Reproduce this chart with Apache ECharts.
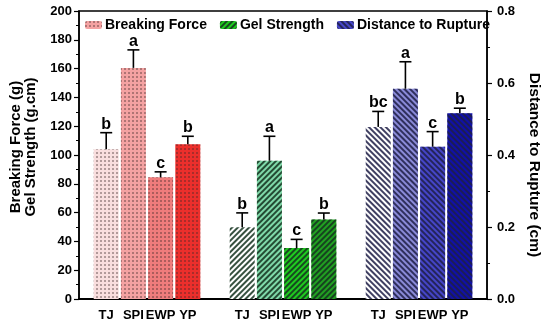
<!DOCTYPE html>
<html>
<head>
<meta charset="utf-8">
<script src="https://cdn.jsdelivr.net/npm/echarts@6/dist/echarts.min.js"></script>
<style>html,body{margin:0;padding:0;background:#fff}#c{width:550px;height:326px}</style>
</head>
<body>
<div id="c"></div>
<script>
// ---- data ----
var samples = ['TJ', 'SPI', 'EWP', 'YP'];
var breakingForce = [104, 160.5, 84.5, 107.5];
var breakingForceErr = [11.5, 12.5, 3.8, 5.5];
var breakingForceLetters = ['b', 'a', 'c', 'b'];
var gelStrength = [49.8, 96, 35.4, 55.2];
var gelStrengthErr = [10, 17, 6, 4.5];
var gelStrengthLetters = ['b', 'a', 'c', 'b'];
var distance = [0.478, 0.584, 0.423, 0.516];
var distanceErr = [0.043, 0.075, 0.042, 0.014];
var distanceLetters = ['bc', 'a', 'c', 'b'];
var leftTicks = [0, 200, 20];
var rightTicks = [0, 0.8, 0.2];

// ---- styles ----
var FONT = 'Liberation Sans, Arial, sans-serif';
var bfColors = ['#f9dede', '#f4a2a2', '#ef7c7c', '#ec2f2c'];
var gsColors = ['#ffffff', '#7fd9a9', '#1fcb1f', '#21a021'];
var dColors = ['#ffffff', '#8a8ad8', '#4545c8', '#1010a8'];
var dotDecal = {symbol: 'circle', symbolSize: 0.8, dashArrayX: [2, 2], dashArrayY: [2, 2], color: 'rgba(60,40,40,0.85)', rotation: 0};
var stripeG = {symbol: 'rect', symbolSize: 1, dashArrayX: [1, 0], dashArrayY: [1.4, 1.6], color: 'rgba(20,50,30,0.85)', rotation: -Math.PI / 4};
var stripeB = {symbol: 'rect', symbolSize: 1, dashArrayX: [1, 0], dashArrayY: [1.4, 1.6], color: 'rgba(30,30,70,0.85)', rotation: Math.PI / 4};

// categories: gap + 4 samples per group
var cats = [''];
[0, 1, 2].forEach(function () { cats = cats.concat(samples); cats.push(''); });
var starts = [1, 6, 11];

function buildBar(vals, colors, decal, g) {
  var d = cats.map(function () { return '-'; });
  vals.forEach(function (v, i) {
    d[starts[g] + i] = {value: v, itemStyle: {color: colors[i], decal: decal}};
  });
  return d;
}
function buildErr(vals, errs, g) {
  return vals.map(function (v, i) { return [starts[g] + i, v, errs[i]]; });
}
function errRender(letters) {
  return function (params, api) {
    var idx = api.value(0), v = api.value(1), e = api.value(2);
    var p0 = api.coord([idx, v]);
    var p1 = api.coord([idx, v + e]);
    var x = p0[0];
    return {
      type: 'group',
      children: [
        {type: 'line', shape: {x1: x, y1: p0[1], x2: x, y2: p1[1]}, style: {stroke: '#000', lineWidth: 1.6}},
        {type: 'line', shape: {x1: x - 6, y1: p1[1], x2: x + 6, y2: p1[1]}, style: {stroke: '#000', lineWidth: 1.6}},
        {type: 'text', x: x, y: p1[1] - 0.5, style: {text: letters[params.dataIndex], font: 'bold 16px ' + FONT, fill: '#000', align: 'center', verticalAlign: 'bottom'}}
      ]
    };
  };
}

var chart = echarts.init(document.getElementById('c'), null, {renderer: 'canvas'});
var axisText = {fontFamily: FONT, fontWeight: 'bold', fontSize: 13, color: '#000'};
chart.setOption({
  animation: false,
  grid: {left: 71, right: 54, top: 11, bottom: 27, show: true, borderColor: '#000', borderWidth: 1.5},
  legend: {
    left: 80, top: 13, itemWidth: 17, itemHeight: 8, itemGap: 13,
    textStyle: {fontFamily: FONT, fontWeight: 'bold', fontSize: 14, color: '#000', padding: [0, 0, 0, -2]},
    data: ['Breaking Force', 'Gel Strength', 'Distance to Rupture']
  },
  xAxis: {
    type: 'category', data: cats, boundaryGap: false,
    axisLine: {lineStyle: {color: '#000', width: 2}},
    axisTick: {show: false},
    axisLabel: {interval: 0, margin: 10, fontFamily: FONT, fontWeight: 'bold', fontSize: 13, color: '#000'}
  },
  yAxis: [{
    type: 'value', min: leftTicks[0], max: leftTicks[1], interval: leftTicks[2],
    name: 'Breaking Force (g)\nGel Strength (g.cm)', nameLocation: 'middle', nameRotate: 90, nameGap: 41,
    nameTextStyle: {fontFamily: FONT, fontWeight: 'bold', fontSize: 15, color: '#000', lineHeight: 15, padding: [0, 0, 0, 16]},
    axisLine: {show: true, lineStyle: {color: '#000', width: 1.5}},
    axisTick: {show: true, length: 5, lineStyle: {color: '#000', width: 1.2}},
    minorTick: {show: true, splitNumber: 2, length: 3, lineStyle: {color: '#000', width: 1}},
    axisLabel: Object.assign({margin: 7}, axisText),
    splitLine: {show: false}
  }, {
    type: 'value', min: rightTicks[0], max: rightTicks[1], interval: rightTicks[2], position: 'right',
    name: 'Distance to Rupture (cm)', nameLocation: 'middle', nameRotate: -90, nameGap: 31,
    nameTextStyle: {fontFamily: FONT, fontWeight: 'bold', fontSize: 15.5, color: '#000', padding: [0, 0, 0, 20]},
    axisLine: {show: true, lineStyle: {color: '#000', width: 1.5}},
    axisTick: {show: true, length: 5, lineStyle: {color: '#000', width: 1.2}},
    minorTick: {show: true, splitNumber: 2, length: 3, lineStyle: {color: '#000', width: 1}},
    axisLabel: Object.assign({margin: 10, formatter: function (v) { return v.toFixed(1); }}, axisText),
    splitLine: {show: false}
  }],
  series: [
    {name: 'Breaking Force', type: 'bar', barWidth: 25, barGap: '-100%', yAxisIndex: 0,
     itemStyle: {color: bfColors[1], decal: dotDecal}, data: buildBar(breakingForce, bfColors, dotDecal, 0)},
    {name: 'Gel Strength', type: 'bar', barWidth: 25, barGap: '-100%', yAxisIndex: 0,
     itemStyle: {color: gsColors[2], decal: stripeG}, data: buildBar(gelStrength, gsColors, stripeG, 1)},
    {name: 'Distance to Rupture', type: 'bar', barWidth: 25, barGap: '-100%', yAxisIndex: 1,
     itemStyle: {color: dColors[2], decal: stripeB}, data: buildBar(distance, dColors, stripeB, 2)},
    {type: 'custom', yAxisIndex: 0, renderItem: errRender(breakingForceLetters), data: buildErr(breakingForce, breakingForceErr, 0), z: 5},
    {type: 'custom', yAxisIndex: 0, renderItem: errRender(gelStrengthLetters), data: buildErr(gelStrength, gelStrengthErr, 1), z: 5},
    {type: 'custom', yAxisIndex: 1, renderItem: errRender(distanceLetters), data: buildErr(distance, distanceErr, 2), z: 5}
  ]
});
</script>
</body>
</html>
